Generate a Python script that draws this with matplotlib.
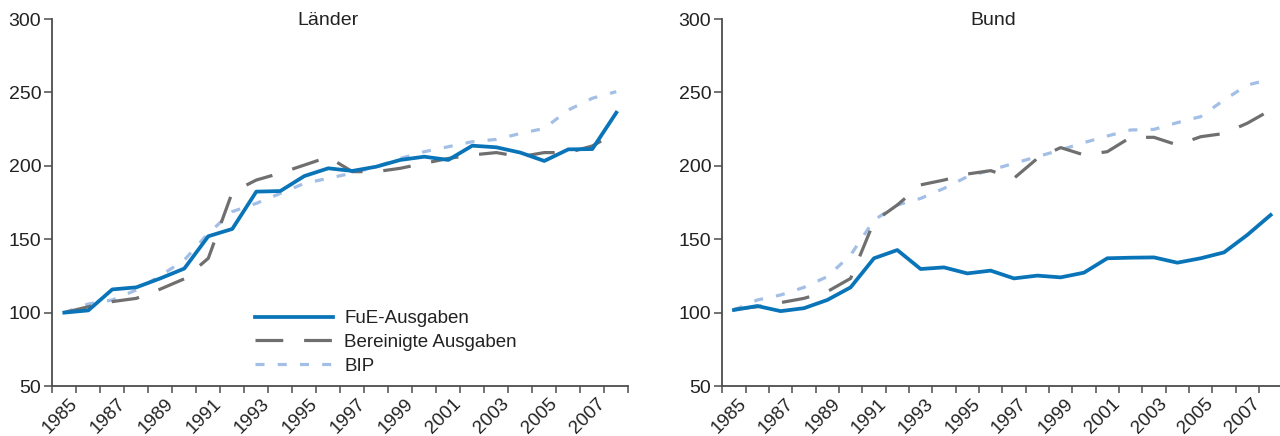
import matplotlib
matplotlib.use("Agg")
import matplotlib.pyplot as plt
import matplotlib.transforms as mtransforms
import numpy as np

plt.rcParams['font.family'] = ['Liberation Sans', 'DejaVu Sans']
plt.rcParams['lines.scale_dashes'] = False

years = list(range(1985, 2009))
tick_labels = [str(y) for y in years[::2]]

laender_fue = [100, 101.5, 115.8, 117.2, 123.3, 130, 152, 157, 182.4, 182.8, 193, 198.3,
               196.5, 199.4, 204, 206.2, 204, 213.7, 212.6, 209, 203.3, 211.2, 211.4, 236.2]
laender_ber = [100, 104, 107.5, 109.7, 116, 123, 137, 182, 190.3, 195, 200.5, 206,
               196, 196, 198.3, 201.7, 205, 207.4, 209, 206.2, 209, 209, 213.5, 222.6]
laender_bip = [100, 105.9, 108.6, 115.4, 125, 135.8, 154, 168.8, 174.4, 181.2, 188, 191.5,
               195, 199.4, 205, 209.6, 213, 216.4, 218, 222, 225.5, 238, 246, 250.5]

bund_fue = [101.8, 104.5, 101, 103, 108.6, 117.2, 137, 142.6, 129.7, 130.8, 126.7, 128.6,
            123.3, 125.2, 124, 127.2, 137, 137.4, 137.6, 134, 137, 141, 152.9, 166.5]
bund_ber = [102.2, 104, 106.8, 109.7, 114.3, 123.3, 162, 173.3, 187, 190.3, 194.4, 196.7,
            191.5, 205, 212.4, 207.4, 209.6, 219.4, 219.4, 214.2, 219.8, 222, 229, 238]
bund_bip = [101.8, 108.6, 112, 117.2, 124.5, 139.2, 163, 173.3, 177.8, 184.6, 192.6, 197,
            201.7, 206.2, 210.8, 215.8, 220.3, 224.4, 224.8, 229.4, 233.5, 244.8, 255, 259]

titles = ["Länder", "Bund"]
legend_labels = ["FuE-Ausgaben", "Bereinigte Ausgaben", "BIP"]

C_FUE = "#0a74b8"
C_BER = "#6f6f6f"
C_BIP = "#a3bfe6"
C_AX = "#4d4d4d"
C_TXT = "#222222"

fig = plt.figure(figsize=(12.8, 4.36), dpi=100)
ax1 = fig.add_axes([52.3/1280, 1-386/436, 576/1280, 367/436])
ax2 = fig.add_axes([722.3/1280, 1-386/436, 560/1280, 367/436])

x = np.arange(len(years))
panels = [(ax1, laender_fue, laender_ber, laender_bip, titles[0], 0.478),
          (ax2, bund_fue, bund_ber, bund_bip, titles[1], 0.484)]

for ax, fue, ber, bip, title, tx in panels:
    ax.plot(x, bip, color=C_BIP, lw=2.3, dashes=(6.5, 9.5), dash_capstyle='butt',
            label=legend_labels[2])
    ax.plot(x, ber, color=C_BER, lw=2.3, dashes=(20, 15), dash_capstyle='butt',
            label=legend_labels[1])
    ax.plot(x, fue, color=C_FUE, lw=2.7, label=legend_labels[0])
    ax.set_xlim(-0.5, len(years) - 0.5)
    ax.set_ylim(50, 300)
    ax.set_yticks([50, 100, 150, 200, 250, 300])
    ax.set_xticks(np.arange(-0.5, len(years), 1.0))
    ax.set_xticklabels([])
    ax.set_xticks(x[::2], minor=True)
    ax.set_xticklabels(tick_labels, minor=True, rotation=45, ha='right', va='top',
                       rotation_mode='anchor')
    ax.tick_params(axis='x', which='minor', length=0, pad=6.5, labelsize=13.5, labelcolor=C_TXT)
    ax.tick_params(axis='x', which='major', length=5, width=1.1, color=C_AX, direction='out')
    ax.tick_params(axis='y', length=6, width=1.1, color=C_AX, labelsize=14,
                   labelcolor=C_TXT, pad=2)
    offset = mtransforms.ScaledTranslation(3/72, 0, fig.dpi_scale_trans)
    for lab in ax.get_xticklabels(minor=True):
        lab.set_transform(lab.get_transform() + offset)
    for s in ['top', 'right']:
        ax.spines[s].set_visible(False)
    for s in ['left', 'bottom']:
        ax.spines[s].set_color(C_AX)
        ax.spines[s].set_linewidth(1.3)
    ax.text(tx, 0.995, title, transform=ax.transAxes, ha='center', va='center',
            fontsize=14, color=C_TXT)
    ax.patch.set_alpha(0)

handles = [l for l in ax1.get_lines()][::-1]
leg = ax1.legend(handles, legend_labels, loc='upper left',
                 bbox_to_anchor=((255 - 52.3) / 576, (386 - 310) / 367),
                 frameon=False, fontsize=13.5, handlelength=4.15, handletextpad=0.62,
                 labelspacing=0.36, borderaxespad=0, borderpad=0)
for t in leg.get_texts():
    t.set_color(C_TXT)

fig.savefig("out.png", dpi=100)
